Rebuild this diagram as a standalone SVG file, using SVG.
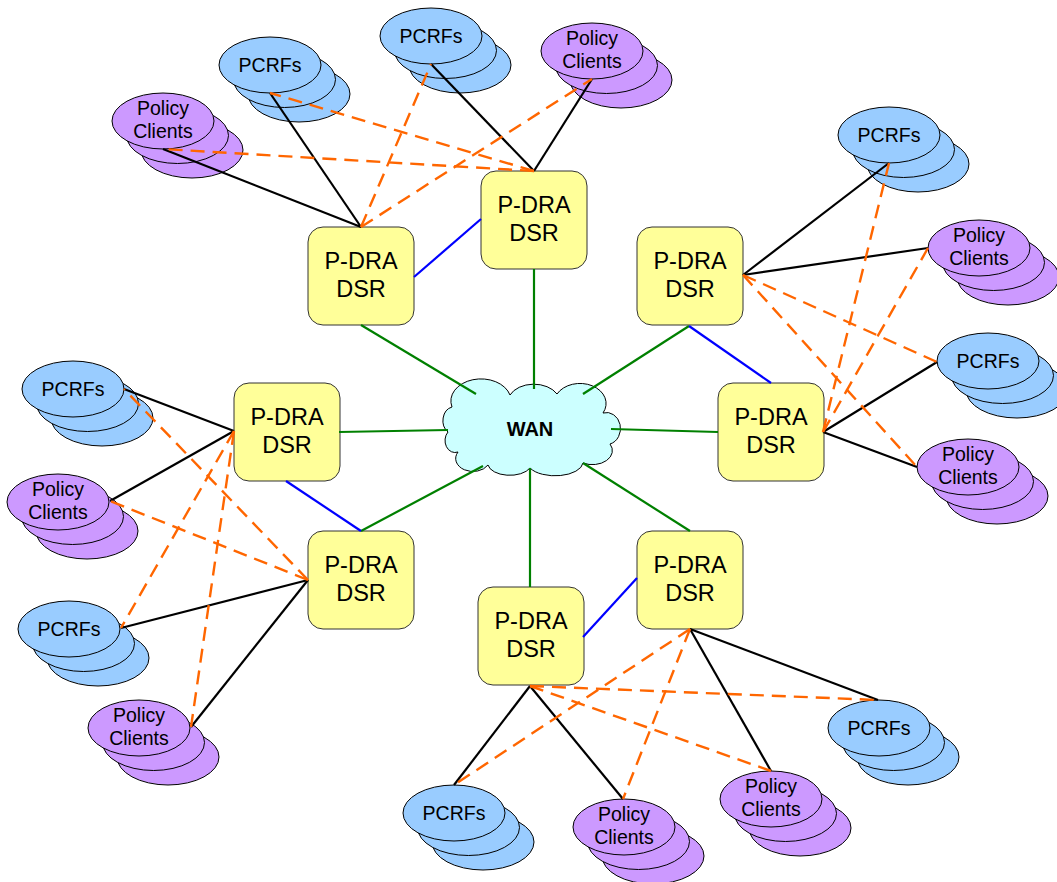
<svg xmlns="http://www.w3.org/2000/svg" xmlns:xlink="http://www.w3.org/1999/xlink" width="1057" height="882" viewBox="0 0 1057 882">
<style>
.pc{fill:#99ccff;stroke:#000;stroke-width:1}
.po{fill:#cc99ff;stroke:#000;stroke-width:1}
.box{fill:#ffff99;stroke:#333;stroke-width:1}
.t{font-family:"Liberation Sans",Arial,sans-serif;font-size:19.5px;text-anchor:middle;fill:#000}
.d{font-family:"Liberation Sans",Arial,sans-serif;font-size:23.5px;text-anchor:middle;fill:#000}
.w{font-family:"Liberation Sans",Arial,sans-serif;font-size:20px;font-weight:bold;text-anchor:middle;fill:#000}
.k{stroke:#000;stroke-width:2.2;fill:none}
.o{stroke:#ff6600;stroke-width:2.4;stroke-dasharray:14 8;fill:none}
.g{stroke:#008000;stroke-width:2.2;fill:none}
.b{stroke:#0000ff;stroke-width:2.2;fill:none}
</style>
<defs>
<g id="sP">
<ellipse class="pc" cx="29" cy="29" rx="51" ry="28"/>
<ellipse class="pc" cx="14.5" cy="14.5" rx="51" ry="28"/>
<ellipse class="pc" cx="0" cy="0" rx="51" ry="28"/>
</g>
<g id="sC">
<ellipse class="po" cx="29" cy="29" rx="51" ry="28"/>
<ellipse class="po" cx="14.5" cy="14.5" rx="51" ry="28"/>
<ellipse class="po" cx="0" cy="0" rx="51" ry="28"/>
</g>
<rect id="bx" class="box" x="0" y="0" width="106" height="98" rx="15" ry="15"/>
</defs>
<rect width="1057" height="882" fill="#fff"/>
<g id="nodes">
<g id="wan">
<path d="M452,407 A30,22 0 0,1 510,395 A26,18 0 0,1 557,394 A26,20 0 0,1 603,413 A14,16 0 0,1 610,444 A20,14 0 0,1 583,463 A28,14 0 0,1 530,468 A22,12 0 0,1 488,465 A16,12 0 0,1 458,452 A10,12 0 0,1 448,432 A12,14 0 0,1 452,407 Z" fill="#ccffff" stroke="#000" stroke-width="1"/>
<text class="w" x="530" y="436">WAN</text>
</g>
<g id="dsrA"><use xlink:href="#bx" x="308" y="227"/><text class="d" x="361" y="269">P-DRA</text><text class="d" x="361" y="297">DSR</text></g>
<g id="dsrB"><use xlink:href="#bx" x="481" y="171"/><text class="d" x="534" y="213">P-DRA</text><text class="d" x="534" y="241">DSR</text></g>
<g id="dsrC"><use xlink:href="#bx" x="637" y="227"/><text class="d" x="690" y="269">P-DRA</text><text class="d" x="690" y="297">DSR</text></g>
<g id="dsrD"><use xlink:href="#bx" x="718" y="383"/><text class="d" x="771" y="425">P-DRA</text><text class="d" x="771" y="453">DSR</text></g>
<g id="dsrE"><use xlink:href="#bx" x="478" y="587"/><text class="d" x="531" y="629">P-DRA</text><text class="d" x="531" y="657">DSR</text></g>
<g id="dsrF"><use xlink:href="#bx" x="637" y="531"/><text class="d" x="690" y="573">P-DRA</text><text class="d" x="690" y="601">DSR</text></g>
<g id="dsrG"><use xlink:href="#bx" x="308" y="531"/><text class="d" x="361" y="573">P-DRA</text><text class="d" x="361" y="601">DSR</text></g>
<g id="dsrH"><use xlink:href="#bx" x="234" y="383"/><text class="d" x="287" y="425">P-DRA</text><text class="d" x="287" y="453">DSR</text></g>

<g id="pcrf1"><use xlink:href="#sP" x="270" y="65"/><text class="t" x="270" y="72">PCRFs</text></g>
<g id="pol2"><use xlink:href="#sC" x="163" y="121"/><text class="t" x="163" y="115">Policy</text><text class="t" x="163" y="138">Clients</text></g>
<g id="pcrf3"><use xlink:href="#sP" x="431" y="36"/><text class="t" x="431" y="43">PCRFs</text></g>
<g id="pol4"><use xlink:href="#sC" x="592" y="51"/><text class="t" x="592" y="45">Policy</text><text class="t" x="592" y="68">Clients</text></g>
<g id="pcrf5"><use xlink:href="#sP" x="889" y="135"/><text class="t" x="889" y="142">PCRFs</text></g>
<g id="pol6"><use xlink:href="#sC" x="979" y="248"/><text class="t" x="979" y="242">Policy</text><text class="t" x="979" y="265">Clients</text></g>
<g id="pcrf7"><use xlink:href="#sP" x="988" y="361"/><text class="t" x="988" y="368">PCRFs</text></g>
<g id="pol8"><use xlink:href="#sC" x="968" y="467"/><text class="t" x="968" y="461">Policy</text><text class="t" x="968" y="484">Clients</text></g>
<g id="pcrf9"><use xlink:href="#sP" x="879" y="728"/><text class="t" x="879" y="735">PCRFs</text></g>
<g id="pol10"><use xlink:href="#sC" x="771" y="799"/><text class="t" x="771" y="793">Policy</text><text class="t" x="771" y="816">Clients</text></g>
<g id="pol11"><use xlink:href="#sC" x="624" y="827"/><text class="t" x="624" y="821">Policy</text><text class="t" x="624" y="844">Clients</text></g>
<g id="pcrf12"><use xlink:href="#sP" x="454" y="813"/><text class="t" x="454" y="820">PCRFs</text></g>
<g id="pol13"><use xlink:href="#sC" x="139" y="728"/><text class="t" x="139" y="722">Policy</text><text class="t" x="139" y="745">Clients</text></g>
<g id="pcrf14"><use xlink:href="#sP" x="69" y="629"/><text class="t" x="69" y="636">PCRFs</text></g>
<g id="pol15"><use xlink:href="#sC" x="58" y="502"/><text class="t" x="58" y="496">Policy</text><text class="t" x="58" y="519">Clients</text></g>
<g id="pcrf16"><use xlink:href="#sP" x="73" y="389"/><text class="t" x="73" y="396">PCRFs</text></g>
</g>
<g id="connectors">
<line class="g" x1="361" y1="325" x2="476" y2="394"/>
<line class="g" x1="534" y1="269" x2="534" y2="389"/>
<line class="g" x1="689" y1="326" x2="583" y2="394"/>
<line class="g" x1="718" y1="432" x2="611" y2="429"/>
<line class="g" x1="530" y1="587" x2="530" y2="468"/>
<line class="g" x1="690" y1="531" x2="583" y2="463"/>
<line class="g" x1="361" y1="531" x2="483" y2="466"/>
<line class="g" x1="339" y1="432" x2="448" y2="430"/>
<line class="b" x1="414" y1="277" x2="481" y2="219"/>
<line class="b" x1="689" y1="326" x2="771" y2="383"/>
<line class="b" x1="286" y1="481" x2="361" y2="531"/>
<line class="b" x1="583" y1="637" x2="637" y2="578"/>
<line class="k" x1="361" y1="227" x2="270" y2="93"/>
<line class="k" x1="361" y1="227" x2="163" y2="149"/>
<line class="k" x1="534" y1="171" x2="431" y2="64"/>
<line class="k" x1="534" y1="171" x2="592" y2="79"/>
<line class="k" x1="743" y1="275" x2="889" y2="163"/>
<line class="k" x1="743" y1="275" x2="928" y2="248"/>
<line class="k" x1="823" y1="432" x2="937" y2="362"/>
<line class="k" x1="823" y1="432" x2="917" y2="467"/>
<line class="k" x1="234" y1="431" x2="124" y2="389"/>
<line class="k" x1="234" y1="431" x2="110" y2="501"/>
<line class="k" x1="308" y1="580" x2="121" y2="628"/>
<line class="k" x1="308" y1="580" x2="191" y2="727"/>
<line class="k" x1="530" y1="686" x2="454" y2="785"/>
<line class="k" x1="530" y1="686" x2="623" y2="799"/>
<line class="k" x1="690" y1="629" x2="771" y2="771"/>
<line class="k" x1="690" y1="629" x2="878" y2="700"/>
<line class="o" x1="534" y1="171" x2="270" y2="93"/>
<line class="o" x1="534" y1="171" x2="163" y2="149"/>
<line class="o" x1="361" y1="227" x2="431" y2="64"/>
<line class="o" x1="361" y1="227" x2="592" y2="79"/>
<line class="o" x1="823" y1="432" x2="889" y2="163"/>
<line class="o" x1="823" y1="432" x2="928" y2="248"/>
<line class="o" x1="743" y1="275" x2="937" y2="362"/>
<line class="o" x1="743" y1="275" x2="917" y2="467"/>
<line class="o" x1="308" y1="580" x2="124" y2="389"/>
<line class="o" x1="308" y1="580" x2="110" y2="501"/>
<line class="o" x1="234" y1="431" x2="121" y2="628"/>
<line class="o" x1="234" y1="431" x2="191" y2="727"/>
<line class="o" x1="690" y1="629" x2="454" y2="785"/>
<line class="o" x1="690" y1="629" x2="623" y2="799"/>
<line class="o" x1="530" y1="686" x2="771" y2="771"/>
<line class="o" x1="530" y1="686" x2="878" y2="700"/>
</g>
</svg>
